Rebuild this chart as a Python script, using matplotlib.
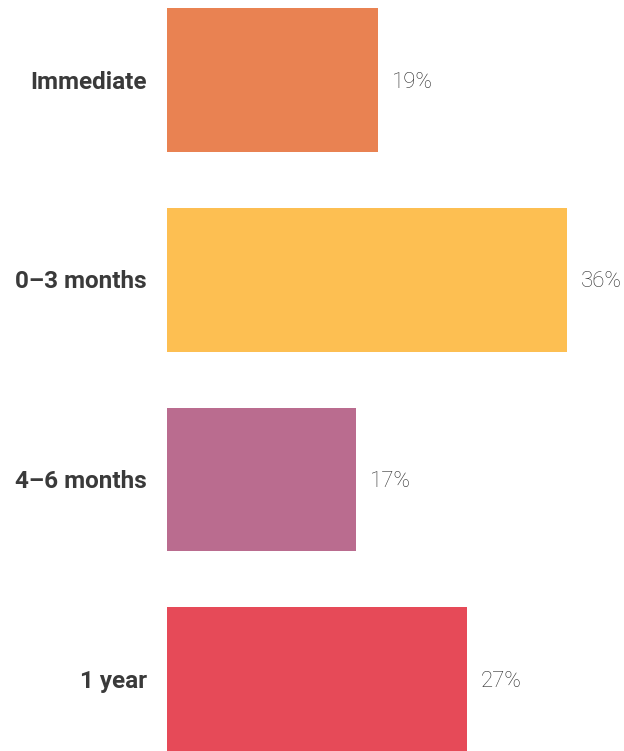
import matplotlib.pyplot as plt

# Data
categories = ["Immediate", "0\u20133 months", "4\u20136 months", "1 year"]
values = [19, 36, 17, 27]
colors = ["#E98252", "#FDBF52", "#BA6C8F", "#E64A58"]

fig = plt.figure(figsize=(6.24, 7.51), dpi=100)
ax = fig.add_axes([167 / 624, 0, 1 - 167 / 624, 1])

pos = list(range(len(categories)))
ax.barh(pos, values, height=0.72, color=colors)

ax.set_xlim(0, (624 - 167) / 11.1)
ax.set_ylim(3.36, -0.4006)

# category labels, left of bars
for p, cat in zip(pos, categories):
    ax.annotate(cat, xy=(0, p), xytext=(-14.4, -1.5), textcoords="offset points",
                ha="right", va="center", fontsize=17.5, fontweight="bold",
                color="#3a3a3a", family="Roboto", annotation_clip=False)

# value labels
for p, v in zip(pos, values):
    ax.annotate(f"{v}%", xy=(v, p), xytext=(10, -1.5), textcoords="offset points",
                ha="left", va="center", fontsize=16, fontweight="light",
                color="#2e2e2e", family="Roboto")

ax.axis("off")
fig.savefig("out.png", dpi=100)
